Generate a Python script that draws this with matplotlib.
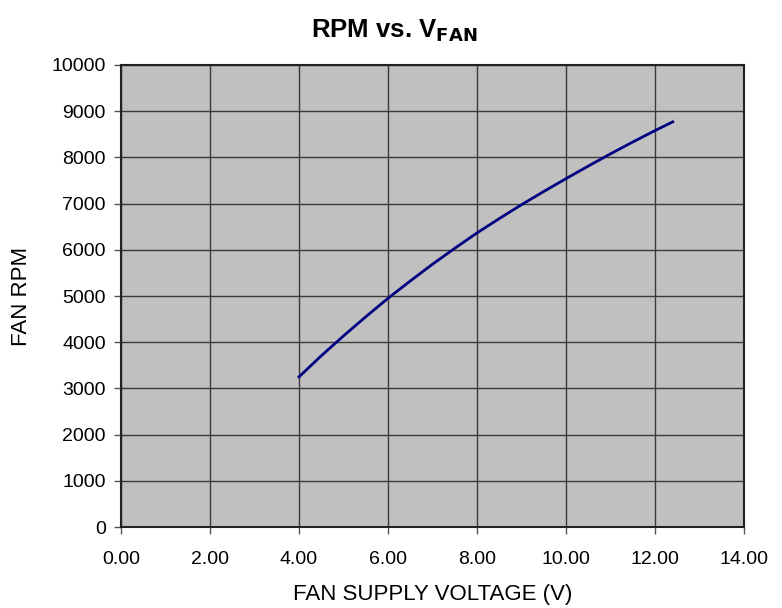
import matplotlib
matplotlib.use("Agg")
import matplotlib.pyplot as plt
from matplotlib.ticker import FormatStrFormatter, MultipleLocator

plt.rcParams['font.family'] = ['Liberation Sans', 'DejaVu Sans']

# Fan speed vs supply voltage
volts = [4.0, 4.5, 5.0, 5.5, 6.0, 6.5, 7.0, 7.5, 8.0, 8.5, 9.0, 9.5,
         10.0, 10.5, 11.0, 11.5, 12.0, 12.4]
rpm = [3250, 3705, 4136, 4550, 4950, 5325, 5688, 6032, 6365, 6675, 6976, 7262,
       7540, 7812, 8077, 8333, 8580, 8770]

fig = plt.figure(figsize=(7.82, 6.08), dpi=100)
ax = fig.add_axes([0.1547, 0.1332, 0.7967, 0.7599])
ax.set_facecolor('#c0c0c0')

ax.plot(volts, rpm, color='#000080', lw=2.0, zorder=3)

ax.set_xlim(0, 14)
ax.set_ylim(0, 10000)
ax.xaxis.set_major_locator(MultipleLocator(2))
ax.yaxis.set_major_locator(MultipleLocator(1000))
ax.xaxis.set_major_formatter(FormatStrFormatter('%.2f'))

ax.grid(True, color='#3a3a3a', lw=1.0)
ax.set_axisbelow(True)
for s in ax.spines.values():
    s.set_linewidth(1.5)
    s.set_color('#222222')

ax.tick_params(direction='out', length=5, width=1, color='#555555',
               labelsize=14, pad=12)
ax.tick_params(axis='y', pad=6)

ax.set_xlabel('FAN SUPPLY VOLTAGE (V)', fontsize=16, labelpad=12)
ax.set_ylabel('FAN RPM', fontsize=16, labelpad=14)

fig.text(394 / 782, 1 - 31 / 608, r'RPM vs. V$_{\mathbf{FAN}}$', ha='center', va='center',
         fontsize=18.5, fontweight='bold')

fig.savefig('out.png', dpi=100)
